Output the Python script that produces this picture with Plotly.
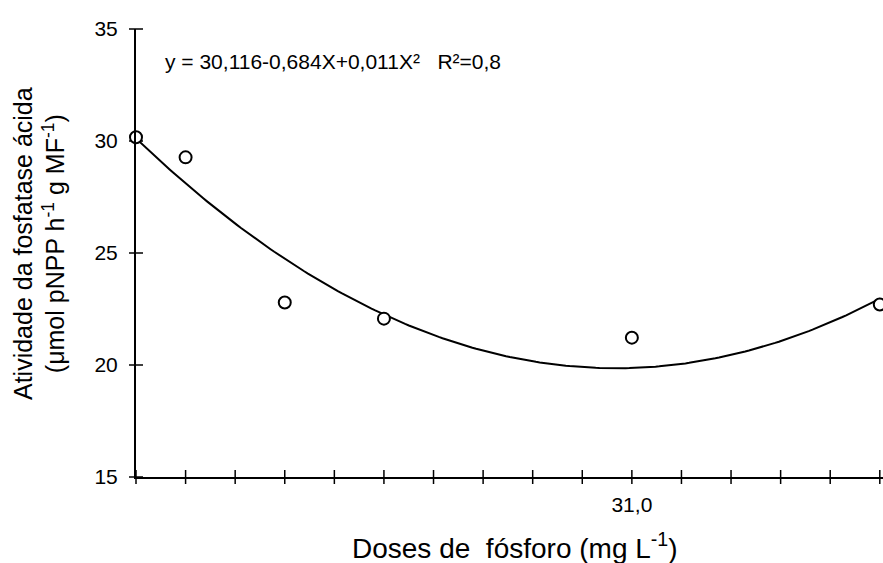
import plotly.graph_objects as go
import numpy as np

# Data
doses = [0.0, 3.1, 9.3, 15.5, 31.0, 46.5]
atividade = [30.17, 29.27, 22.79, 22.07, 21.22, 22.70]

# Regression coefficients (as drawn)
fit_coefs = [30.116, -0.684, 0.0114]

x_ticks = [round(3.1 * i, 1) for i in range(16)]
x_tick_text = ["31,0" if abs(v - 31.0) < 1e-6 else "" for v in x_ticks]
y_ticks = [15, 20, 25, 30, 35]

xf = np.linspace(0, 46.5, 200)
yf = fit_coefs[0] + fit_coefs[1] * xf + fit_coefs[2] * xf ** 2

FONT = "Liberation Sans, Arial, sans-serif"
XR = [0, 46.7]
YR = [15, 35]

fig = go.Figure()
# crossing tick marks on both axes
fig.add_trace(go.Scatter(x=x_ticks, y=[YR[0]] * len(x_ticks), mode="markers",
                         marker=dict(symbol="line-ns-open", size=10, color="black",
                                     line=dict(color="black", width=1.5)),
                         cliponaxis=False, showlegend=False, hoverinfo="skip"))
fig.add_trace(go.Scatter(x=[XR[0]] * len(y_ticks), y=y_ticks, mode="markers",
                         marker=dict(symbol="line-ew-open", size=10, color="black",
                                     line=dict(color="black", width=1.5)),
                         cliponaxis=False, showlegend=False, hoverinfo="skip"))
fig.add_trace(go.Scatter(x=xf, y=yf, mode="lines",
                         line=dict(color="black", width=2), showlegend=False,
                         hoverinfo="skip"))
fig.add_trace(go.Scatter(x=doses, y=atividade, mode="markers",
                         marker=dict(symbol="circle", size=12, color="white",
                                     line=dict(color="black", width=2)),
                         showlegend=False, cliponaxis=False))

fig.update_layout(
    width=883, height=563,
    margin=dict(l=136, r=0, t=29, b=86),
    paper_bgcolor="white", plot_bgcolor="white",
    font=dict(family=FONT, color="black", size=20),
    xaxis=dict(range=XR, tickmode="array", tickvals=x_ticks, ticktext=x_tick_text,
               ticks="", showline=True, linecolor="black", linewidth=2,
               showgrid=False, zeroline=False, ticklabelstandoff=8,
               tickfont=dict(size=21)),
    yaxis=dict(range=YR, tickmode="array", tickvals=y_ticks,
               ticks="", showline=True, linecolor="black", linewidth=2,
               showgrid=False, zeroline=False, ticklabelstandoff=12,
               tickfont=dict(size=21)),
    annotations=[
        dict(text="y = 30,116-0,684X+0,011X²   R²=0,8",
             x=1.7, y=33.55, xref="x", yref="y", xanchor="left", yanchor="middle",
             showarrow=False, font=dict(size=21, family=FONT)),
        dict(text="Atividade da fosfatase ácida<br>(μmol pNPP h<sup>-1</sup> g MF<sup>-1</sup>)",
             x=0, y=0.52, xref="paper", yref="paper", xanchor="center", yanchor="middle",
             xshift=-97, textangle=-90, showarrow=False, font=dict(size=25, family=FONT)),
        dict(text="Doses de  fósforo (mg L<sup>-1</sup>)",
             x=0.507, y=-0.155, xref="paper", yref="paper", xanchor="center", yanchor="middle",
             showarrow=False, font=dict(size=28, family=FONT)),
    ],
)

fig.write_html("out.html")
